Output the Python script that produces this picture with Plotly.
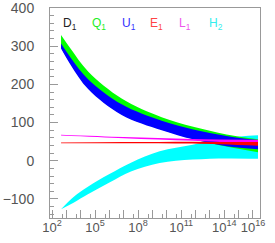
import math
import plotly.graph_objects as go

# energy scale (GeV) sample points, as log10 exponents
logmu = [2.63, 3.3, 4.53, 6.85, 9.64, 11.84, 14.16, 16.35]
mu = [10 ** v for v in logmu]

q_top = [329, 293, 233, 163, 114, 89, 69, 56]
q_bot = [296, 254, 190, 122, 82, 57, 37, 22]
u_top = [307, 270, 213, 148, 105, 82, 65, 54]
u_bot = [294, 251, 187, 120, 80, 56, 38, 30]

logmu_h = [2.63, 3.5, 4.5, 6.0, 7.5, 9.5, 11.8, 14.2, 16.35]
mu_h = [10 ** v for v in logmu_h]
h_top = [-127, -95, -68, -35, -5, 25, 42, 60, 67]
h_bot = [-127, -110, -88, -57, -28, -6, 3, 6, 5]

logmu_l = [2.63, 7.0, 11.8, 16.35]
mu_l = [10 ** v for v in logmu_l]
l_top = [68, 62, 57, 55]
l_bot = [66, 59, 52, 44]
e_top = [48, 49, 50, 49]
e_bot = [46, 46, 45, 39]

labels = ["D<sub>1</sub>", "Q<sub>1</sub>", "U<sub>1</sub>", "E<sub>1</sub>", "L<sub>1</sub>", "H<sub>2</sub>"]
label_colors = ["#222222", "#22ee22", "#3333ff", "#ff4444", "#ee55ee", "#33eeee"]
label_mu = [10 ** 3.22, 10 ** 5.27, 10 ** 7.36, 10 ** 9.28, 10 ** 11.23, 10 ** 13.39]

x_major = [10 ** k for k in range(2, 17)]
x_text = ["10<sup>%d</sup>" % k if k in (2, 5, 8, 11, 14, 16) else "" for k in range(2, 17)]
x_minor = [5 * 10 ** k for k in range(1, 16)]

fig = go.Figure()


def band(x, top, bot, color):
    fig.add_trace(go.Scatter(x=x, y=bot, mode="lines", line=dict(width=0, color=color, shape="spline"),
                             showlegend=False, hoverinfo="skip"))
    fig.add_trace(go.Scatter(x=x, y=top, mode="lines", line=dict(width=0, color=color, shape="spline"),
                             fill="tonexty", fillcolor=color, showlegend=False, hoverinfo="skip"))


band(mu_h, h_top, h_bot, "#00ffff")
band(mu, q_top, q_bot, "#00ff00")
band(mu, u_top, u_bot, "#0000ff")
band(mu_l, l_top, l_bot, "#ff00ff")
band(mu_l, e_top, e_bot, "#ff0000")

for t, c, xx in zip(labels, label_colors, label_mu):
    # annotation positions on a log axis are given in log10 units
    fig.add_annotation(x=math.log10(xx), y=358, text=t, showarrow=False, xanchor="center", yanchor="middle",
                       font=dict(family="Liberation Sans", size=12, color=c))

axis_common = dict(showline=True, linecolor="#999999", linewidth=1, mirror=True,
                   ticks="inside", tickcolor="#999999", ticklen=8, tickwidth=1,
                   showgrid=False, zeroline=False, automargin=False, ticklabeloverflow="allow")

fig.update_xaxes(type="log", range=[1.86, 16.49], tickmode="array", tickvals=x_major, ticktext=x_text,
                 ticklabelstandoff=-3,
                 tickfont=dict(family="Liberation Sans", size=13, color="#555555"),
                 minor=dict(tickmode="array", tickvals=x_minor, ticklen=4, tickcolor="#999999", ticks="inside"),
                 **axis_common)
fig.update_yaxes(range=[-150, 400], tickmode="array", tickvals=[-100, 0, 100, 200, 300, 400],
                 ticktext=["\u2212100", "0", "100", "200", "300", "400"], ticklabelstandoff=12,
                 tickfont=dict(family="Liberation Sans", size=14, color="#555555"),
                 minor=dict(dtick=20, ticklen=4, tickcolor="#999999", ticks="inside"),
                 **axis_common)

fig.update_layout(width=275, height=243, margin=dict(l=50, r=15, t=8, b=25, autoexpand=False),
                  paper_bgcolor="white", plot_bgcolor="white", showlegend=False)

fig.write_html("out.html", config={"displayModeBar": False},
               post_script="document.body.style.margin='0';")
